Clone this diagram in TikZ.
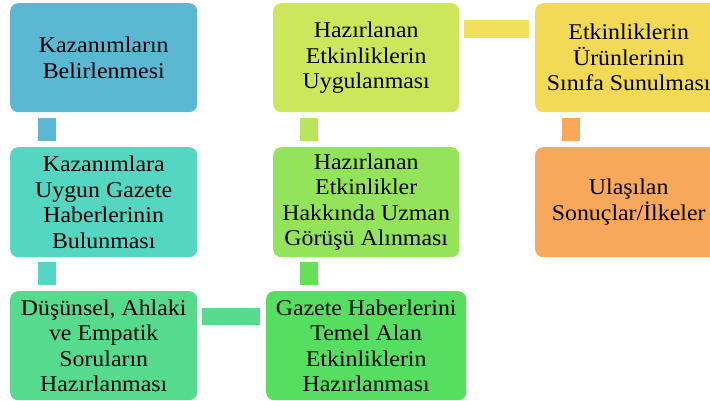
\documentclass[tikz,border=0pt]{standalone}
\usepackage{fontspec}
\setmainfont{Liberation Serif}
\newfontfamily\kutufont{Liberation Serif}[FakeStretch=1.06]
\usetikzlibrary{calc}

\definecolor{kmavi}{HTML}{5BB8D2}
\definecolor{kturkuaz}{HTML}{55D6C3}
\definecolor{kzumrut}{HTML}{55DA8E}
\definecolor{kyesil}{HTML}{55DE60}
\definecolor{kbag}{HTML}{68DF5B}
\definecolor{kacik}{HTML}{93E35B}
\definecolor{kbagacik}{HTML}{B6E65A}
\definecolor{ksari}{HTML}{CDE65B}
\definecolor{kbagsari}{HTML}{EFE25A}
\definecolor{kaltin}{HTML}{F2DA57}
\definecolor{kturuncu}{HTML}{F8A85A}

\tikzset{
	kutu/.style={fill=#1, draw=none, rounded corners=8pt, anchor=north west, inner sep=0pt,
		minimum width=187pt, minimum height=109pt, align=center, text=black,
		font=\kutufont\fontsize{22.5}{25.5}\selectfont},
	bag/.style={draw=#1, line width=18pt}
}

\begin{document}
\begin{tikzpicture}[x=1pt, y=-1pt]
			%%%%% START %%%%%
			
			\useasboundingbox (0, 0) rectangle (710, 401);
			\clip (0, 0) rectangle (710, 401);
			
			% sol sutun
			\node[kutu=kmavi] (kazanim) at (10, 3) {Kazanımların\\Belirlenmesi};
			\node[kutu=kturkuaz, minimum height=110pt] (haber) at (10, 147) {Kazanımlara\\Uygun Gazete\\Haberlerinin\\Bulunması};
			\node[kutu=kzumrut] (soru) at (10, 291) {Düşünsel, Ahlaki\\ve Empatik\\Soruların\\Hazırlanması};
			
			% orta sutun
			\node[kutu=kyesil, minimum width=200pt] (etkinlik) at (266, 291) {Gazete Haberlerini\\Temel Alan\\Etkinliklerin\\Hazırlanması};
			\node[kutu=kacik, minimum width=186pt, minimum height=110pt] (uzman) at (273, 147) {Hazırlanan\\Etkinlikler\\Hakkında Uzman\\Görüşü Alınması};
			\node[kutu=ksari, minimum width=186pt] (uygulama) at (273, 3) {Hazırlanan\\Etkinliklerin\\Uygulanması};
			
			% sag sutun
			\node[kutu=kaltin] (sunum) at (535, 3) {Etkinliklerin\\Ürünlerinin\\Sınıfa Sunulması};
			\node[kutu=kturuncu, minimum height=110pt] (sonuc) at (535, 147) {Ulaşılan\\Sonuçlar/İlkeler};
			
			% baglar
			\draw[bag=kmavi] ($(kazanim.south west)+(37, 6)$) -- ($(haber.north west)+(37, -6)$);
			\draw[bag=kturkuaz] ($(haber.south west)+(37, 5)$) -- ($(soru.north west)+(37, -6)$);
			\draw[bag=kzumrut, line width=17.5pt] ($(soru.north east)+(5, 25.5)$) -- ($(etkinlik.north west)+(-6, 25.5)$);
			\draw[bag=kbag] ($(etkinlik.north west)+(43, -6)$) -- ($(uzman.south west)+(36, 5)$);
			\draw[bag=kbagacik] ($(uzman.north west)+(36, -6)$) -- ($(uygulama.south west)+(36, 6)$);
			\draw[bag=kbagsari] ($(uygulama.north east)+(5, 26)$) -- ($(sunum.north west)+(-6, 26)$);
			\draw[bag=kturuncu] ($(sunum.south west)+(36, 6)$) -- ($(sonuc.north west)+(36, -6)$);
			
			%%%%% END %%%%%
\end{tikzpicture}
\end{document}
